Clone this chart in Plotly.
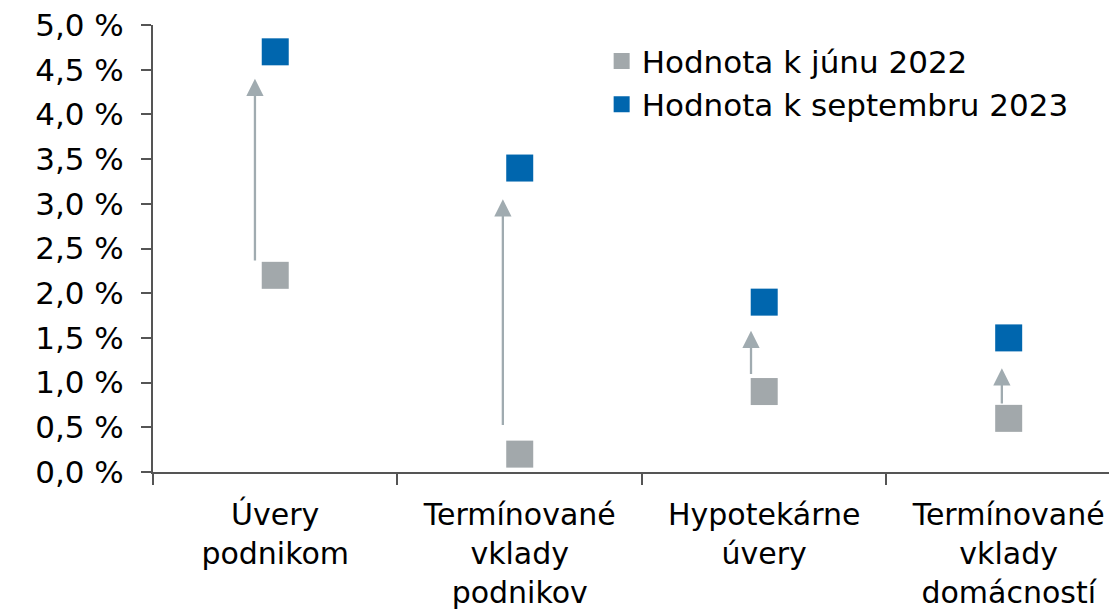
import plotly.graph_objects as go

categories = ["Úvery podnikom", "Termínované vklady podnikov", "Hypotekárne úvery", "Termínované vklady domácností"]
category_labels = ["Úvery<br>podnikom", "Termínované<br>vklady<br>podnikov", "Hypotekárne<br>úvery", "Termínované<br>vklady<br>domácností"]
june_2022 = [2.2, 0.2, 0.9, 0.6]
sept_2023 = [4.7, 3.4, 1.9, 1.5]
arrow_from = [2.35, 0.51, 1.08, 0.75]
arrow_to = [4.40, 3.05, 1.58, 1.16]
arrow_offset = [-0.083, -0.069, -0.054, -0.028]
y_tick_values = [0, 0.5, 1, 1.5, 2, 2.5, 3, 3.5, 4, 4.5, 5]
y_tick_labels = ["0,0 %", "0,5 %", "1,0 %", "1,5 %", "2,0 %", "2,5 %", "3,0 %", "3,5 %", "4,0 %", "4,5 %", "5,0 %"]

GRAY = "#A2A8AB"
BLUE = "#0066AE"
ARROW = "#A0ABB0"
AXIS = "#555555"
FONT = "DejaVu Sans"

fig = go.Figure()
fig.add_trace(go.Scatter(x=category_labels, y=june_2022, mode="markers", name="Hodnota k júnu 2022",
                         marker=dict(symbol="square", size=27, color=GRAY), cliponaxis=False))
fig.add_trace(go.Scatter(x=category_labels, y=sept_2023, mode="markers", name="Hodnota k septembru 2023",
                         marker=dict(symbol="square", size=27, color=BLUE), cliponaxis=False))

for i in range(len(categories)):
    xi = i + arrow_offset[i]
    fig.add_annotation(x=xi, y=arrow_to[i], ax=xi, ay=arrow_from[i], xref="x", yref="y", axref="x", ayref="y",
                       showarrow=True, arrowhead=2, arrowsize=1.5, arrowwidth=2.3, arrowcolor=ARROW, text="")

# The page body has an 8 px margin, so the figure is 8 px smaller than the window.
fig.update_layout(
    width=1109, height=601,
    margin=dict(l=145, r=0, t=17, b=137),
    plot_bgcolor="white", paper_bgcolor="white",
    font=dict(family=FONT, size=31, color="black"),
    showlegend=True,
    legend=dict(x=0.4654, y=0.979, xanchor="left", yanchor="top", bgcolor="rgba(0,0,0,0)",
                font=dict(family=FONT, size=31, color="black"), tracegroupgap=0, itemsizing="trace"),
    xaxis=dict(type="category", range=[-0.5, 3.443], showline=True, linecolor=AXIS, linewidth=2,
               ticks="outside", tickson="boundaries", ticklen=11, tickcolor=AXIS, tickwidth=1.5,
               showgrid=False, zeroline=False, automargin=False, ticklabelstandoff=15,
               ticklabeloverflow="allow", tickfont=dict(family=FONT, size=30, color="black")),
    yaxis=dict(range=[0, 5], tickvals=y_tick_values, ticktext=y_tick_labels, showline=True, linecolor=AXIS,
               linewidth=2, ticks="outside", ticklen=10, tickcolor=AXIS, tickwidth=1.5, showgrid=False,
               zeroline=False, automargin=False, ticklabeloverflow="allow",
               tickfont=dict(family=FONT, size=31, color="black"), ticklabelstandoff=11),
)

fig.write_html("out.html")
